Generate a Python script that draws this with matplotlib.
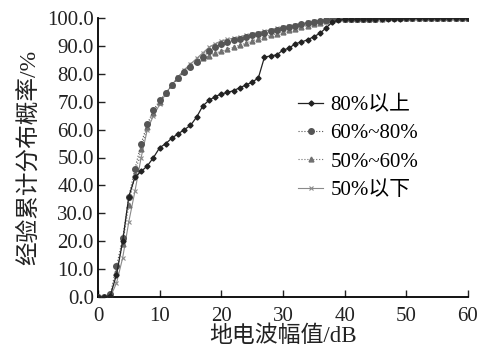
import matplotlib
matplotlib.use("Agg")
import matplotlib.pyplot as plt
import numpy as np

plt.rcParams['font.family'] = ['Liberation Serif', 'Noto Sans CJK SC', 'DejaVu Sans']
plt.rcParams['mathtext.fontset'] = 'stix'

amplitude = list(range(0, 61))

s_above80 = [0, 0, 0.5, 8, 20, 36, 43, 45, 47, 50, 53.5, 55, 57, 58.5, 60, 61.5, 64.5, 68.5, 70.5, 71.8,
             72.8, 73.3, 74, 75, 76, 77, 78.5, 86, 86.4, 86.8, 88.5, 89.2, 90.8, 91.4, 92.2, 93.3, 94.5, 96.5, 98.5, 99.2,
             99.5, 99.6, 99.6, 99.7, 99.7, 99.7, 99.8, 99.8, 99.8, 99.8, 99.9, 99.9, 99.9, 99.9, 99.9, 100, 100, 100, 100, 100, 100]
s_60_80 = [0, 0, 1, 11, 21, 36, 46, 55, 62, 67, 70.5, 73, 76, 78.5, 80.8, 82.6, 84.4, 86, 88, 89.5,
           90.8, 91.5, 92, 92.6, 93.2, 93.8, 94.3, 94.8, 95.3, 95.8, 96.3, 96.8, 97.3, 97.8, 98.3, 98.7, 99, 99.3, 99.5, 99.6,
           99.7, 99.7, 99.8, 99.8, 99.8, 99.8, 99.9, 99.9, 99.9, 99.9, 99.9, 99.9, 100, 100, 100, 100, 100, 100, 100, 100, 100]
s_50_60 = [0, 0, 0.5, 9, 19, 33, 44, 53, 61, 66, 70, 73, 76, 78.5, 81, 83, 84.5, 85.5, 86.5, 87.5,
           88, 88.8, 89.5, 90.3, 91, 91.8, 92.5, 93.2, 93.8, 94.4, 95, 95.6, 96.2, 96.8, 97.3, 97.8, 98.3, 98.8, 99.2, 99.5,
           99.6, 99.7, 99.7, 99.8, 99.8, 99.8, 99.8, 99.9, 99.9, 99.9, 99.9, 99.9, 100, 100, 100, 100, 100, 100, 100, 100, 100]
s_below50 = [0, 0, 0, 5, 14, 27, 38, 50, 60, 65, 69, 73, 76, 79, 81.5, 83.5, 85.5, 87.5, 89.5, 90.8,
             91.8, 92.3, 92.8, 93.3, 93.8, 94.3, 94.8, 95.3, 95.8, 96.3, 96.8, 97.2, 97.6, 98, 98.4, 98.8, 99.1, 99.4, 99.6, 99.7,
             99.8, 99.8, 99.8, 99.9, 99.9, 99.9, 99.9, 99.9, 99.9, 100, 100, 100, 100, 100, 100, 100, 100, 100, 100, 100, 100]

labels = ['80%以上', '60%~80%', '50%~60%', '50%以下']
x_ticks = [0, 10, 20, 30, 40, 50, 60]
y_ticks = [0, 10, 20, 30, 40, 50, 60, 70, 80, 90, 100]

fig = plt.figure(figsize=(4.9, 3.6), dpi=100)
ax = fig.add_axes([0.2, 0.175, 0.755, 0.775])

ax.plot(amplitude, s_below50, color='#8a8a8a', lw=0.8, ls='-', marker='x', ms=3.5, mew=0.8, label=labels[3], zorder=2)
ax.plot(amplitude, s_50_60, color='#707070', lw=0.8, ls=':', marker='^', ms=3.5, label=labels[2], zorder=3)
ax.plot(amplitude, s_60_80, color='#555555', lw=0.8, ls=':', marker='o', ms=4, label=labels[1], zorder=4)
ax.plot(amplitude, s_above80, color='#222222', lw=0.9, ls='-', marker='D', ms=2.6, label=labels[0], zorder=5)

ax.set_xlim(0, 60)
ax.set_ylim(0, 100)
ax.set_xticks(x_ticks)
ax.set_yticks(y_ticks)
ax.set_yticklabels([f'{v:.1f}' for v in y_ticks])
ax.tick_params(direction='in', length=5, width=1, labelsize=15, colors='#222222')
ax.tick_params(axis='x', pad=7)
ax.tick_params(axis='y', pad=3)
ax.spines['top'].set_visible(False)
ax.spines['right'].set_visible(False)
ax.spines['left'].set_linewidth(1.3)
ax.spines['bottom'].set_linewidth(1.3)

ax.set_xlabel('地电波幅值/dB', fontsize=16.5, labelpad=0, color='#222222')
ax.set_ylabel('经验累计分布概率/%', fontsize=17, labelpad=5, color='#222222')

handles, labs = ax.get_legend_handles_labels()
order = [3, 2, 1, 0]
leg = ax.legend([handles[i] for i in order], [labs[i] for i in order],
                loc='upper left', bbox_to_anchor=(0.49, 0.79), frameon=False,
                fontsize=15, handlelength=1.2, handletextpad=0.35, labelspacing=0.42)

fig.savefig('out.png', dpi=100)
